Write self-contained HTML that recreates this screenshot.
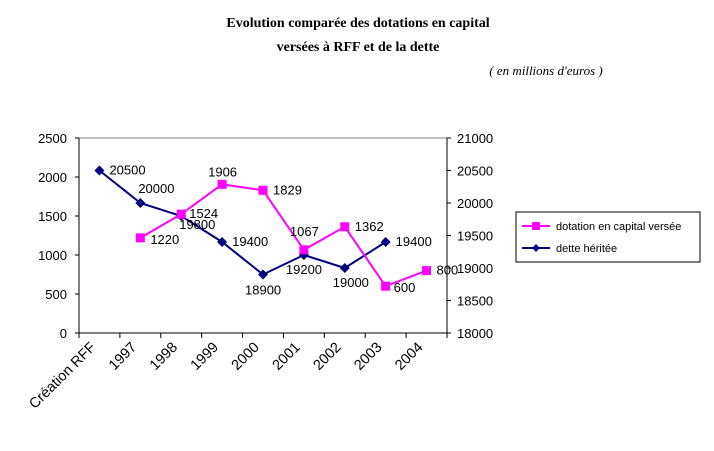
<!DOCTYPE html>
<html><head><meta charset="utf-8"><style>
body{margin:0;background:#fff;}
svg text{font-family:"Liberation Sans",Arial,sans-serif;}
</style></head><body>
<svg width="714" height="446" xmlns="http://www.w3.org/2000/svg">
<text x="358" y="27" text-anchor="middle" font-weight="bold" font-size="14" style="font-family:'Liberation Serif',serif">Evolution comparée des dotations en capital</text>
<text x="358" y="51" text-anchor="middle" font-weight="bold" font-size="14" style="font-family:'Liberation Serif',serif">versées à RFF et de la dette</text>
<text x="546" y="75" text-anchor="middle" font-style="italic" font-size="13" style="font-family:'Liberation Serif',serif">( en millions d'euros )</text>
<g id="plot"></g>
<g>
<rect x="516" y="212" width="184" height="50" fill="#fff" stroke="#000" stroke-width="1"/>
<line x1="522" y1="226" x2="550" y2="226" stroke="#ff00ff" stroke-width="2"/>
<rect x="532" y="222" width="8" height="8" fill="#ff00ff"/>
<text x="556" y="230" font-size="11">dotation en capital versée</text>
<line x1="522" y1="248" x2="550" y2="248" stroke="#000080" stroke-width="2"/>
<polygon points="536,244 540,248 536,252 532,248" fill="#000080"/>
<text x="556" y="252" font-size="11">dette héritée</text>
</g>
</svg>
<script>
const categories=["Création RFF","1997","1998","1999","2000","2001","2002","2003","2004"];
const dotation=[null,1220,1524,1906,1829,1067,1362,600,800];
const dette=[20500,20000,19800,19400,18900,19200,19000,19400,null];
const leftTicks=[0,500,1000,1500,2000,2500];
const rightTicks=[18000,18500,19000,19500,20000,20500,21000];
const NS="http://www.w3.org/2000/svg";
const g=document.getElementById('plot');
const X0=79,X1=447,Y0=333,Y1=138;
const bw=(X1-X0)/categories.length;
const xc=i=>X0+bw*(i+0.5);
const yl=v=>Y0-(v/2500)*(Y0-Y1);
const yr=v=>Y0-((v-18000)/3000)*(Y0-Y1);
function mk(t,a,p){const e=document.createElementNS(NS,t);for(const k in a)e.setAttribute(k,a[k]);(p||g).appendChild(e);return e;}
const frame=mk('rect',{x:X0,y:Y1,width:X1-X0,height:Y0-Y1,fill:'none',stroke:'#808080','stroke-width':1});


mk('line',{x1:X0,y1:Y1,x2:X0,y2:Y0,stroke:'#000'});
mk('line',{x1:X1,y1:Y1,x2:X1,y2:Y0,stroke:'#000'});
mk('line',{x1:X0,y1:Y0,x2:X1,y2:Y0,stroke:'#000'});
leftTicks.forEach(v=>{const y=yl(v);mk('line',{x1:X0-4,y1:y,x2:X0,y2:y,stroke:'#000'});
const t=mk('text',{x:X0-12,y:y+5,'text-anchor':'end','font-size':13});t.textContent=v;

});
rightTicks.forEach(v=>{const y=yr(v);mk('line',{x1:X1,y1:y,x2:X1+4,y2:y,stroke:'#000'});
const t=mk('text',{x:X1+10,y:y+5,'font-size':13});t.textContent=v;

});
for(let i=0;i<=categories.length;i++){const x=X0+bw*i;mk('line',{x1:x,y1:Y0,x2:x,y2:Y0+5,stroke:'#000'});}
categories.forEach((c,i)=>{const x=xc(i)-3,y=Y0+15;
const t=mk('text',{x:x,y:y,'text-anchor':'end','font-size':14.5,transform:`rotate(-45 ${x} ${y})`});t.textContent=c;

});
function series(vals,yf,color,marker,name,labOff){
let pts=[];vals.forEach((v,i)=>{if(v!=null)pts.push([xc(i),yf(v),v]);});
const pl=mk('polyline',{points:pts.map(p=>p[0]+','+p[1]).join(' '),fill:'none',stroke:color,'stroke-width':2});


pts.forEach((p,k)=>{let m;
if(marker==='sq')m=mk('rect',{x:p[0]-4.5,y:p[1]-4.5,width:9,height:9,fill:color});
else m=mk('polygon',{points:`${p[0]},${p[1]-5} ${p[0]+5},${p[1]} ${p[0]},${p[1]+5} ${p[0]-5},${p[1]}`,fill:color});


const o=labOff[k]||[8,4];
const t=mk('text',{x:p[0]+o[0],y:p[1]+o[1],'font-size':13});t.textContent=p[2];

});
}
series(dette,yr,'#000080','dia','dette',[[10,4],[-2,-10],[-2,13],[10,4],[-18,20],[-18,19],[-12,19],[10,4]]);
series(dotation,yl,'#ff00ff','sq','dotation',[[10,6],[8,4],[-14,-8],[10,4],[-14,-14],[10,4],[8,6],[10,4]]);
</script>
</body></html>
